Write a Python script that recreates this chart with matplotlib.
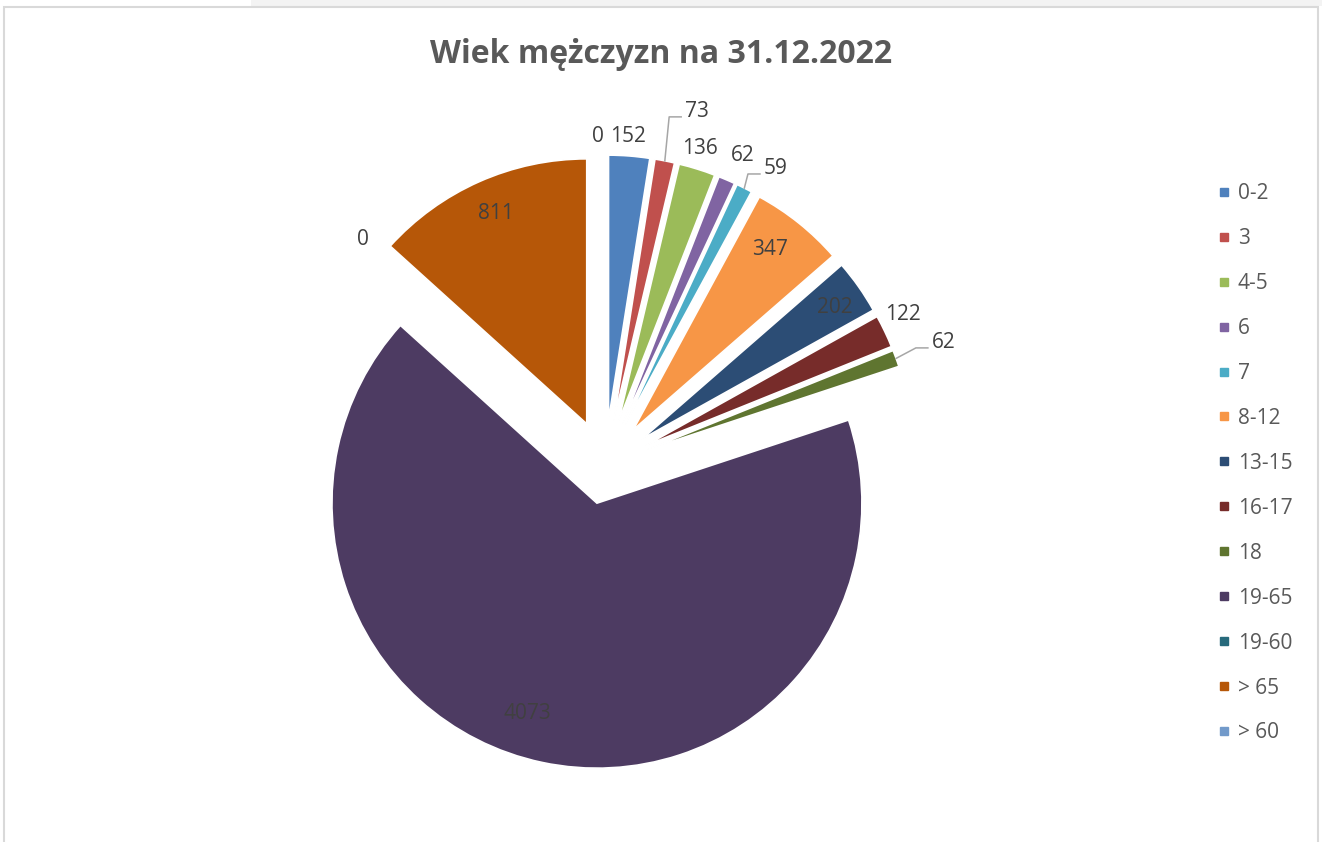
import numpy as np
import matplotlib
matplotlib.use('Agg')
import matplotlib.pyplot as plt
from matplotlib.patches import Rectangle
from matplotlib.lines import Line2D

plt.rcParams['font.family'] = ['Open Sans', 'DejaVu Sans']

W, H = 1322, 842

# ---- dane ----
TITLE = 'Wiek mężczyzn na 31.12.2022'
groups = ['0-2', '3', '4-5', '6', '7', '8-12', '13-15', '16-17', '18',
          '19-65', '19-60', '> 65', '> 60']
counts = [152, 73, 136, 62, 59, 347, 202, 122, 62, 4073, 0, 811, 0]
colors = ['#4F81BD', '#C0504D', '#9BBB59', '#8064A2', '#4BACC6', '#F79646',
          '#2C4D75', '#772C2A', '#5F7530', '#4D3B62', '#276A7C', '#B65708',
          '#729ACA']

# wysuniecie wycinkow (px)
explode = [45, 45, 45, 45, 45, 45, 45, 45, 45, 39, 45, 45, 45]
# etykiety: odleglosc od srodka wycinka (x promien), przesuniecie katowe (st., zgodnie z zegarem)
lab_dist = [1.08, 1.215, 1.083, 1.113, 1.127, 0.857, 0.885, 1.092, 1.192, 0.83, 1.082, 0.87, 1.076]
lab_nudge = [-0.6, 3.9, -0.8, 0.9, 3.6, -1.7, 0.5, -1.7, 0.0, 6.5, 1.3, 0.7, -1.4]
leader = [False, True, False, False, True, False, False, False, True, False, False, False, False]

# ---- figura ----
fig = plt.figure(figsize=(W / 100, H / 100), dpi=100)
ax = fig.add_axes([0, 0, 1, 1])

# tlo arkusza i ramka wykresu
ax.add_patch(Rectangle((251, H - 6), W - 251, 6, color='#F3F3F3', lw=0))
ax.add_patch(Rectangle((4, -10), 1314, H - 7 + 10, fill=False,
                       edgecolor='#D9D9D9', lw=1.5))

R = 265
cx, cy = 605, H - 465
wedges, _ = ax.pie(counts, colors=colors, startangle=90, counterclock=False,
                   radius=R, center=(cx, cy), explode=explode,
                   wedgeprops=dict(edgecolor='white', linewidth=1.2))
ax.set_xlim(0, W)
ax.set_ylim(0, H)
ax.set_aspect('equal')
ax.axis('off')

# etykiety danych
for w, n, d, nud, lead in zip(wedges, counts, lab_dist, lab_nudge, leader):
    mid = (w.theta1 + w.theta2) / 2
    phi = np.deg2rad(mid - nud)
    ex, ey = w.center
    tx, ty = ex + d * R * np.cos(phi), ey + d * R * np.sin(phi)
    ax.text(tx, ty - 7, str(n), ha='center', va='baseline',
            fontsize=15, color='#404040')
    if lead:
        pm = np.deg2rad(mid)
        sx, sy = ex + R * np.cos(pm), ey + R * np.sin(pm)
        ax.plot([sx, tx - 28, tx - 16], [sy, ty - 7, ty - 7],
                color='#A6A6A6', lw=1.1)

# tytul
ax.text(661, H - 63, TITLE, ha='center', va='baseline', fontsize=23,
        fontweight='bold', color='#595959')

# legenda
handles = [Line2D([], [], marker='s', ls='', color=c, markersize=6) for c in colors]
ax.legend(handles, groups, loc='upper left', bbox_to_anchor=(1218, H - 183),
          bbox_transform=ax.transData, frameon=False, fontsize=15,
          labelcolor='#595959', handlelength=0.6, handletextpad=0.35,
          labelspacing=1.15, borderpad=0, borderaxespad=0)

fig.savefig('out.png', dpi=100, facecolor='white')
